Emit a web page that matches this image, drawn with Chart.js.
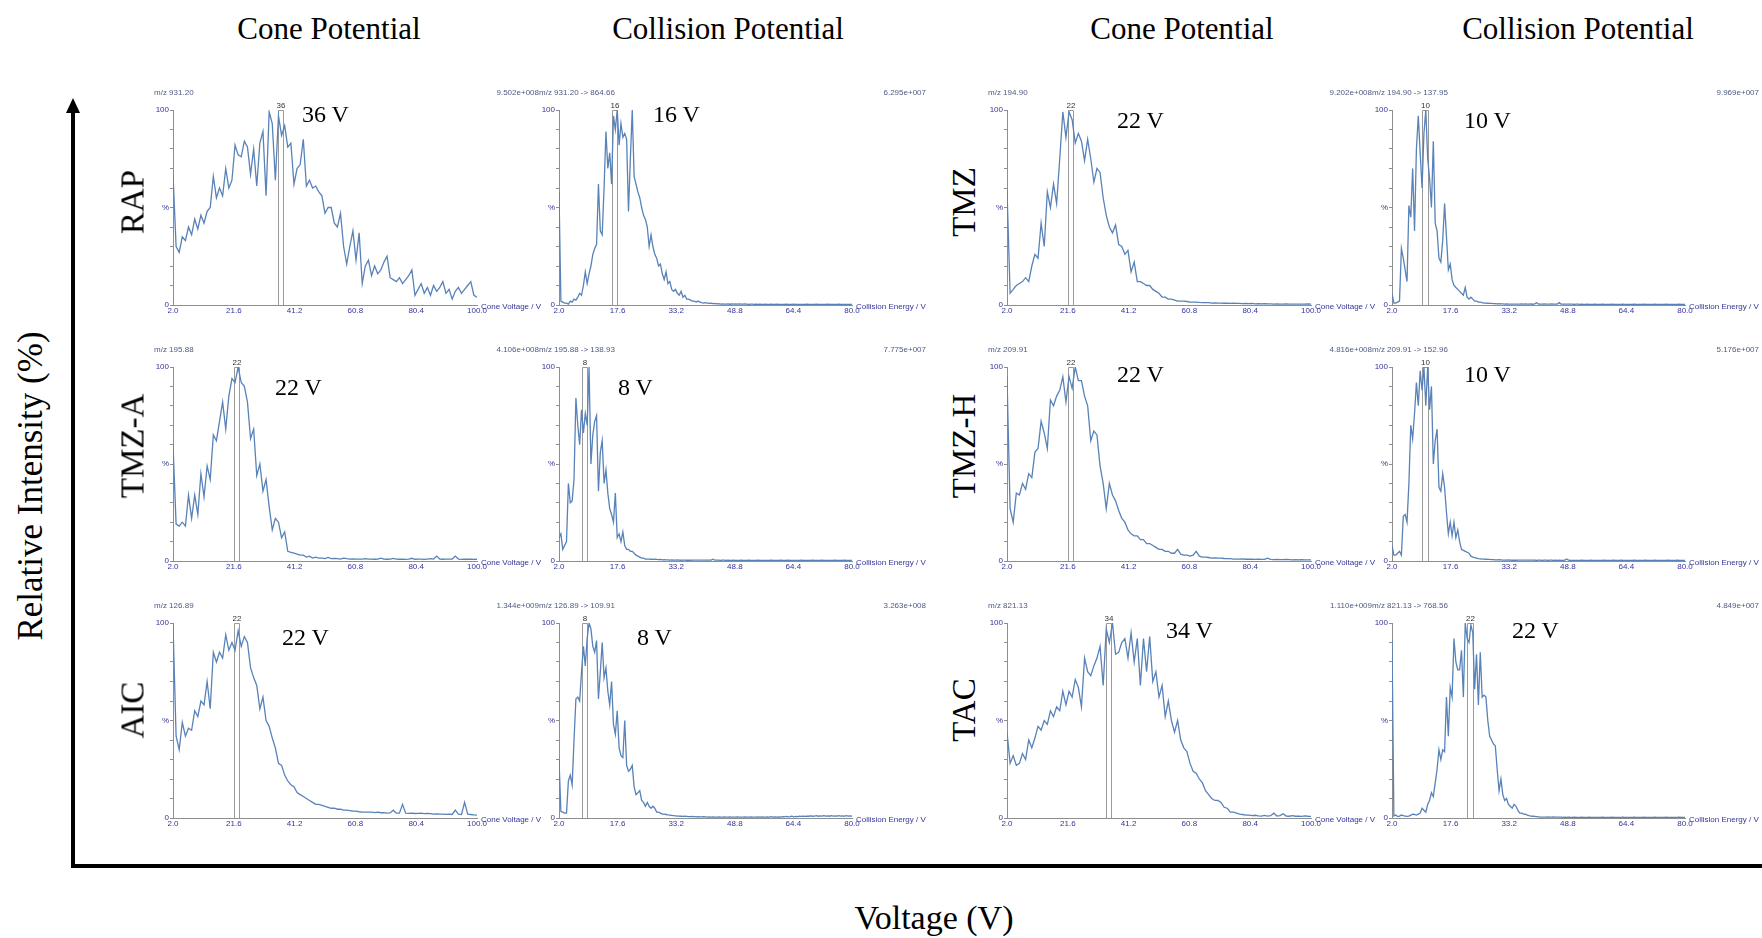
<!DOCTYPE html>
<html>
<head>
<meta charset="utf-8">
<script src="https://cdn.jsdelivr.net/npm/chart.js@4.4.1/dist/chart.umd.min.js"></script>
<style>
  body { margin: 0; width: 1762px; height: 938px; background: #fff; position: relative; overflow: hidden; }
  .panel { position: absolute; }
  .serif { position: absolute; font-family: "Liberation Serif", "Times New Roman", serif; color: #000; white-space: nowrap; line-height: 1; }
  .small { position: absolute; font-family: "Liberation Sans", Arial, sans-serif; font-size: 8px; white-space: nowrap; line-height: 1; }
</style>
</head>
<body>
<svg width="1762" height="938" style="position:absolute;left:0;top:0">
  <line x1="73" y1="110" x2="73" y2="868" stroke="#000" stroke-width="4"/>
  <line x1="71" y1="866" x2="1762" y2="866" stroke="#000" stroke-width="4"/>
  <polygon points="73,98 66,113 80,113" fill="#000"/>
</svg>
<script>
// ---------- data ----------
// x axis ticks of the two kinds of panel
const coneTicks = [2.0, 21.6, 41.2, 60.8, 80.4, 100.0];
const collisionTicks = [2.0, 17.6, 33.2, 48.8, 64.4, 80.0];
const intensityTicks = [0, 10, 20, 30, 40, 50, 60, 70, 80, 90, 100];

// scans: cone voltage from 2 V in 1 V steps, collision energy from 2 V in 0.5 V steps
const coneStart = 2, coneStep = 1;
const collisionStart = 2, collisionStep = 0.5;

const compounds = ['RAP', 'TMZ', 'TMZ-A', 'TMZ-H', 'AIC', 'TAC'];
const coneMz = ['m/z 931.20', 'm/z 194.90', 'm/z 195.88', 'm/z 209.91', 'm/z 126.89', 'm/z 821.13'];
const coneIntensity = ['9.502e+008', '9.202e+008', '4.106e+008', '4.816e+008', '1.344e+009', '1.110e+009'];
const collisionMz = ['m/z 931.20 -> 864.66', 'm/z 194.90 -> 137.95', 'm/z 195.88 -> 138.93',
                     'm/z 209.91 -> 152.96', 'm/z 126.89 -> 109.91', 'm/z 821.13 -> 768.56'];
const collisionIntensity = ['6.295e+007', '9.969e+007', '7.775e+007', '5.176e+007', '3.263e+008', '4.849e+007'];
const conePeak = [36, 22, 22, 22, 22, 34];
const collisionPeak = [16, 10, 8, 10, 8, 22];

// relative intensity (%), cone voltage 2..100 V
const rapCone = [
  67, 30, 27, 35, 33, 40, 36, 44, 39, 46,
  42, 48, 50, 66, 55, 60, 56, 70, 60, 64,
  82, 77, 76, 84, 81, 67, 80, 61, 83, 89,
  56, 99, 93, 64, 97, 87, 92, 81, 83, 62,
  70, 72, 85, 61, 64, 60, 61, 58, 56, 47,
  50, 50, 42, 40, 47, 30, 21, 30, 38, 23,
  37, 11, 20, 23, 15, 20, 16, 18, 22, 25,
  14, 13, 12, 14, 11, 13, 15, 18, 5, 8,
  11, 6, 9, 5, 10, 7, 9, 12, 6, 8,
  3, 7, 9, 6, 8, 10, 12, 5, 4];
const tmzCone = [
  59, 6, 8, 10, 11, 12, 14, 12, 20, 26,
  24, 42, 30, 58, 50, 62, 52, 75, 99, 86,
  99, 95, 83, 88, 84, 74, 85, 75, 63, 70,
  68, 55, 46, 40, 37, 41, 31, 30, 26, 28,
  17, 22, 12, 12, 11, 10, 10, 8, 7, 6,
  4, 4, 3, 3, 2.5, 2, 2, 2, 1.8, 1.5,
  1.5, 1.5, 1.3, 1.2, 1.2, 1.2, 1, 1.1, 1, 1,
  0.9, 1, 0.8, 0.9, 0.8, 0.8, 0.7, 0.8, 0.7, 0.8,
  0.6, 0.7, 0.6, 0.7, 0.6, 0.6, 0.5, 0.6, 0.5, 0.5,
  0.6, 0.5, 0.5, 0.4, 0.5, 0.5, 0.4, 0.5, 0.4];
const tmzACone = [
  60, 19, 18, 20, 18, 34, 22, 34, 24, 45,
  33, 49, 42, 65, 62, 72, 82, 68, 85, 94,
  92, 100, 92, 90, 82, 63, 68, 44, 50, 36,
  42, 28, 16, 22, 20, 12, 15, 5, 4.5, 4,
  3.5, 3, 3, 2, 2.5, 1.5, 2, 1.5, 1.5, 1.2,
  1.8, 1.2, 1.3, 1.2, 1, 1.5, 1.2, 1, 1.1, 1,
  1, 1, 1.2, 1, 1, 0.9, 1, 1.5, 1, 0.9,
  1, 1.3, 1, 0.9, 1, 0.8, 1, 1.4, 0.9, 1,
  1, 0.8, 1, 1.2, 1, 2.5, 1, 0.9, 1, 1,
  1, 2.5, 1, 0.8, 1, 0.9, 1, 0.8, 0.9];
const tmzHCone = [
  95, 27, 20, 35, 34, 40, 37, 45, 43, 56,
  58, 72, 66, 58, 83, 80, 85, 88, 95, 82,
  95, 89, 100, 93, 93, 85, 80, 62, 67, 65,
  49, 40, 27, 40, 34, 31, 26, 22, 20, 16,
  14, 13, 13, 11, 11, 9, 9, 8, 7, 6,
  6, 5, 5, 4, 4, 6, 3.5, 3, 3, 2.5,
  3, 5, 2.5, 2, 2, 1.8, 1.5, 1.6, 1.5, 1.5,
  1.3, 1.2, 1.2, 1, 1, 1, 1.1, 0.9, 1, 0.9,
  0.8, 0.9, 0.8, 0.8, 1.5, 0.8, 0.7, 0.8, 0.7, 0.7,
  0.8, 0.7, 0.6, 0.7, 0.6, 0.7, 0.6, 0.6, 0.6];
const aicCone = [
  99, 42, 35, 49, 42, 46, 45, 55, 52, 60,
  58, 70, 56, 85, 80, 85, 82, 94, 86, 90,
  86, 96, 88, 93, 90, 77, 72, 68, 56, 62,
  50, 47, 41, 36, 28, 27, 22, 19, 17, 16,
  13, 12, 11, 10, 9, 8, 7, 7, 6.5, 6,
  5.5, 5, 5, 4.5, 4.5, 4, 4, 3.8, 3.5, 3.5,
  3.2, 3, 3, 3, 3, 2.8, 3, 2.7, 2.8, 2.5,
  2.6, 4, 2.5, 2.5, 7, 2.5, 2.4, 2.5, 2.3, 2.4,
  2.5, 2.2, 2.3, 2.2, 2, 2.1, 2, 2, 1.9, 2,
  1.8, 4, 2, 1.8, 8, 2, 1.8, 1.6, 1.5];
const tacCone = [
  44, 28, 32, 27, 28, 33, 30, 40, 36, 41,
  47, 45, 50, 48, 55, 52, 57, 55, 65, 58,
  65, 62, 71, 67, 57, 82, 75, 73, 78, 82,
  88, 68, 97, 90, 100, 84, 85, 90, 92, 82,
  95, 80, 92, 68, 92, 75, 93, 70, 75, 62,
  68, 52, 60, 50, 44, 50, 40, 36, 34, 28,
  24, 23, 20, 18, 14, 12, 10, 9, 9, 8,
  5.5, 5, 3, 3, 2.5, 2, 1.8, 1.5, 1.5, 1.2,
  1.4, 1.1, 1, 1.3, 1, 1.2, 2.5, 1, 1.2, 2.2,
  1, 0.9, 1.2, 0.9, 1, 0.8, 1.1, 0.9, 0.8];

// relative intensity (%), collision energy 2..80 V
const rapCollision = [
  58, 2, 1.5, 1, 1, 0.5, 2, 1.5, 3, 2.5,
  4, 6, 5, 10, 17, 11, 16, 20, 26, 29,
  31, 62, 38, 36, 60, 89, 70, 78, 62, 97,
  90, 100, 82, 93, 86, 88, 85, 48, 75, 100,
  66, 62, 58, 55, 50, 46, 44, 40, 30, 36,
  30, 26, 24, 20, 21, 16, 13, 17, 11, 12,
  8, 7, 8, 6, 5, 7, 4, 5, 3, 3,
  2.5, 2, 2, 1.5, 2, 1.5, 1.2, 1, 1.2, 1,
  0.8, 1, 0.7, 0.8, 0.6, 0.7, 0.5, 0.6, 0.5, 0.5,
  0.6, 0.4, 0.5, 0.4, 0.5, 0.4, 0.5, 0.4, 0.4, 0.5,
  0.4, 0.3, 0.4, 0.4, 0.3, 0.4, 0.3, 0.4, 0.3, 0.3,
  0.4, 0.3, 0.3, 0.4, 0.3, 0.3, 0.4, 0.3, 0.3, 0.3,
  0.3, 0.4, 0.3, 0.3, 0.3, 0.4, 0.3, 0.3, 0.3, 0.3,
  0.3, 0.3, 0.4, 0.3, 0.3, 0.3, 0.3, 0.4, 0.3, 0.3,
  0.3, 0.3, 0.3, 0.4, 0.3, 0.3, 0.3, 0.3, 0.3, 0.4,
  0.3, 0.3, 0.3, 0.3, 0.3, 0.3, 0.3];
const tmzCollision = [
  6, 1, 1, 1.5, 2, 29, 24, 18, 12, 51,
  45, 70, 38, 80, 97, 78, 60, 88, 100, 75,
  65, 50, 84, 42, 38, 24, 22, 33, 52, 35,
  18, 21, 13, 10, 9, 8, 7, 6, 5, 9,
  4, 3, 4, 3, 2, 2, 1.5, 1.5, 1.2, 1,
  1, 0.9, 0.8, 0.8, 0.7, 0.7, 0.6, 0.7, 0.6, 0.6,
  0.5, 0.6, 0.5, 0.5, 0.5, 0.4, 0.5, 0.5, 0.4, 0.5,
  0.4, 0.5, 0.4, 0.4, 0.5, 0.4, 0.6, 1.2, 0.5, 0.4,
  0.4, 0.5, 0.4, 0.4, 0.4, 0.5, 0.4, 0.4, 0.5, 1.2,
  0.5, 0.4, 0.4, 0.4, 0.4, 0.4, 0.4, 0.3, 0.4, 0.4,
  0.3, 0.4, 0.3, 0.3, 0.4, 0.3, 0.3, 0.3, 0.4, 0.3,
  0.3, 0.3, 0.4, 0.3, 0.3, 0.3, 0.3, 0.4, 0.3, 0.3,
  0.3, 0.3, 0.3, 0.4, 0.3, 0.3, 0.3, 0.3, 0.3, 0.4,
  0.3, 0.3, 0.3, 0.3, 0.4, 0.3, 0.3, 0.3, 0.3, 0.3,
  0.4, 0.3, 0.3, 0.3, 0.3, 0.3, 0.4, 0.3, 0.3, 0.3,
  0.3, 0.3, 0.3, 0.4, 0.3, 0.3, 0.3];
const tmzACollision = [
  12, 14, 6, 8, 10, 40, 30, 31, 42, 84,
  70, 60, 78, 66, 76, 70, 100, 50, 65, 72,
  75, 36, 56, 62, 40, 47, 35, 27, 24, 20,
  35, 12, 14, 10, 15, 8, 6, 6, 5, 5,
  4, 3, 2.5, 2, 1.5, 1.5, 1, 1, 1, 0.9,
  0.8, 0.9, 0.8, 0.7, 0.8, 0.6, 0.7, 0.6, 0.6, 0.5,
  0.6, 0.5, 0.5, 0.6, 0.5, 0.4, 0.5, 0.5, 0.4, 0.5,
  0.4, 0.5, 0.4, 0.4, 0.5, 0.4, 0.4, 0.4, 0.5, 0.4,
  0.4, 0.5, 0.9, 0.4, 0.4, 0.4, 0.3, 0.4, 0.4, 0.3,
  0.4, 0.3, 0.3, 0.4, 0.3, 0.3, 0.3, 0.4, 0.3, 0.3,
  0.3, 0.4, 0.3, 0.3, 0.3, 0.3, 0.4, 0.3, 0.3, 0.3,
  0.3, 0.3, 0.3, 0.4, 0.3, 0.3, 0.3, 0.3, 0.4, 0.3,
  0.3, 0.3, 0.4, 0.3, 0.3, 0.3, 0.3, 0.3, 0.3, 0.4,
  0.3, 0.3, 0.3, 0.3, 0.3, 0.4, 0.3, 0.3, 0.3, 0.3,
  0.4, 0.3, 0.3, 0.3, 0.3, 0.3, 0.3, 0.4, 0.3, 0.3,
  0.3, 0.3, 0.4, 0.3, 0.3, 0.3, 0.3];
const tmzHCollision = [
  8, 3, 3, 4, 5, 3, 23, 24, 20, 40,
  70, 63, 76, 92, 80, 98, 88, 100, 80, 100,
  78, 90, 50, 62, 68, 38, 36, 45, 38, 25,
  14, 20, 13, 20, 12, 16, 10, 6, 5.5, 5,
  4.5, 4, 2.5, 2, 1.8, 1.5, 1.2, 1.1, 1, 1,
  0.9, 0.8, 0.8, 0.7, 0.7, 0.6, 0.6, 0.7, 0.6, 0.5,
  0.5, 0.5, 0.6, 0.5, 0.4, 0.5, 0.4, 0.5, 0.4, 0.4,
  0.4, 0.5, 0.4, 0.4, 0.4, 0.4, 0.4, 0.3, 0.4, 0.4,
  0.3, 0.4, 0.4, 0.3, 0.4, 0.4, 0.3, 0.4, 0.3, 0.4,
  0.3, 0.3, 0.4, 1.0, 0.4, 0.3, 0.3, 0.3, 0.3, 0.3,
  0.3, 0.4, 0.3, 0.3, 0.3, 0.3, 0.4, 0.3, 0.3, 0.3,
  0.3, 0.3, 0.3, 0.4, 0.3, 0.3, 0.3, 0.3, 0.4, 0.3,
  0.3, 0.3, 0.4, 0.3, 0.3, 0.3, 0.3, 0.3, 0.3, 0.4,
  0.3, 0.3, 0.3, 0.3, 0.3, 0.4, 0.3, 0.3, 0.3, 0.3,
  0.4, 0.3, 0.3, 0.3, 0.3, 0.3, 0.3, 0.4, 0.3, 0.3,
  0.3, 0.3, 0.4, 0.3, 0.3, 0.3, 0.3];
const aicCollision = [
  30, 3.4, 3, 2.5, 2.5, 19, 22, 17, 40, 61,
  62, 60, 75, 88, 78, 92, 100, 97, 88, 85,
  91, 61, 75, 90, 72, 77, 65, 58, 70, 48,
  43, 55, 36, 32, 31, 50, 27, 24, 25, 27,
  16, 12, 13, 14, 9, 8, 6, 8, 6, 5,
  6, 5, 3, 3, 2.5, 2, 2, 1.8, 1.6, 1.5,
  1.3, 1.2, 1.1, 1, 1, 0.9, 0.8, 0.9, 0.8, 0.7,
  0.7, 0.8, 0.7, 0.6, 0.7, 0.6, 0.6, 0.7, 0.6, 0.5,
  0.6, 0.5, 0.6, 0.5, 0.5, 0.6, 0.5, 0.5, 0.6, 0.5,
  0.5, 0.6, 0.5, 0.5, 0.5, 0.6, 0.5, 0.5, 0.5, 0.6,
  0.5, 0.5, 0.6, 0.5, 0.5, 0.5, 0.6, 0.5, 0.6, 0.5,
  0.5, 0.6, 0.5, 0.7, 0.5, 0.6, 0.5, 0.6, 0.5, 0.7,
  0.6, 0.8, 0.6, 0.7, 0.9, 0.6, 0.8, 0.7, 0.9, 0.8,
  1, 0.8, 1, 0.9, 1.1, 0.9, 1, 1.2, 0.9, 1.1,
  1, 1.2, 1, 1.1, 0.9, 1.2, 1, 1.1, 1, 1.2,
  1, 1.1, 1, 1.2, 1, 1.1, 1];
const tacCollision = [
  91, 1, 1.5, 0.8, 1, 1.5, 1.2, 1, 0.8, 1,
  1.5, 2, 1.8, 1.5, 2, 2.5, 5, 4, 3, 7,
  9, 13, 11, 18, 25, 35, 30, 35, 34, 62,
  42, 67, 62, 92, 80, 76, 76, 86, 62, 100,
  92, 90, 99, 95, 66, 84, 58, 85, 62, 63,
  62, 50, 42, 40, 38, 37, 25, 14, 20, 12,
  9, 10, 7, 6, 5, 7, 6, 4, 2.5, 2.5,
  2, 2, 1.5, 1.2, 1, 0.9, 0.8, 0.7, 0.6, 0.5,
  0.5, 0.5, 0.4, 0.5, 0.4, 0.4, 0.5, 0.4, 0.4, 0.4,
  0.4, 0.3, 0.4, 0.3, 0.4, 0.3, 0.3, 0.4, 0.3, 0.3,
  0.3, 0.4, 0.3, 0.3, 0.3, 0.4, 0.3, 0.3, 0.3, 0.3,
  0.3, 0.3, 0.4, 0.3, 0.3, 0.3, 0.3, 0.4, 0.3, 0.3,
  0.3, 0.3, 0.3, 0.4, 0.3, 0.3, 0.3, 0.3, 0.3, 0.4,
  0.3, 0.3, 0.3, 0.3, 0.4, 0.3, 0.3, 0.3, 0.3, 0.3,
  0.4, 0.3, 0.3, 0.3, 0.3, 0.3, 0.4, 0.3, 0.3, 0.3,
  0.3, 0.3, 0.3, 0.4, 0.3, 0.3, 0.3];

const coneSeries = [rapCone, tmzCone, tmzACone, tmzHCone, aicCone, tacCone];
const collisionSeries = [rapCollision, tmzCollision, tmzACollision, tmzHCollision, aicCollision, tacCollision];

// big "optimum" labels written next to each peak
const coneOptimumText = ['36 V', '22 V', '22 V', '22 V', '22 V', '34 V'];
const collisionOptimumText = ['16 V', '10 V', '8 V', '10 V', '8 V', '22 V'];

// ---------- layout (pixels) ----------
const rowTop = [110, 367, 623];
const rowHeight = [195, 194, 195];
const pairConeLeft = [173, 1007];
const pairCollisionLeft = [559, 1392];
const coneWidth = 304, collisionWidth = 293;
const rowLabelX = [133, 964];
const rowLabelY = [202, 446, 710];
// left edge and baseline of the big "xx V" labels, per compound: [cone, collision]
const optimumPos = [
  [[302, 122], [653, 122]], [[1117, 128], [1464, 128]],
  [[275, 395], [618, 395]], [[1117, 382], [1464, 382]],
  [[282, 645], [637, 645]], [[1166, 638], [1512, 638]]];

const Y_AXIS_W = 24, X_AXIS_H = 12, PAD_TOP = 14, PAD_RIGHT = 16;
const LINE_COLOR = '#5882b8';
const AXIS_COLOR = '#8e8e8e';
const TICK_COLOR = '#34349a';
const HEAD_COLOR = '#4f5a82';
const SANS = '"Liberation Sans", Arial, sans-serif';

Chart.defaults.font.family = SANS;

function addText(cls, text, x, y, opts) {
  const el = document.createElement('div');
  el.className = cls;
  el.textContent = text;
  el.style.left = x + 'px';
  el.style.top = y + 'px';
  if (opts.size) el.style.fontSize = opts.size + 'px';
  if (opts.color) el.style.color = opts.color;
  if (opts.transform) el.style.transform = opts.transform;
  document.body.appendChild(el);
}

// peak box + its label, placed through the chart's own scales
const peakBoxPlugin = {
  id: 'peakBox',
  beforeDatasetsDraw(chart, args, opts) {
    const { ctx, scales: { x, y } } = chart;
    const l = Math.round(x.getPixelForValue(opts.peak + opts.from)) + 0.5;
    const r = Math.round(x.getPixelForValue(opts.peak + opts.to)) + 0.5;
    const t = Math.round(y.getPixelForValue(100)) + 0.5;
    const b = Math.round(y.getPixelForValue(0));
    ctx.save();
    ctx.strokeStyle = '#9a9a9a';
    ctx.lineWidth = 1;
    ctx.beginPath();
    ctx.moveTo(l, b); ctx.lineTo(l, t); ctx.lineTo(r, t); ctx.lineTo(r, b);
    ctx.stroke();
    ctx.fillStyle = '#333';
    ctx.font = '8px ' + SANS;
    ctx.textAlign = 'center';
    ctx.textBaseline = 'bottom';
    ctx.fillText(String(opts.peak), (l + r) / 2, t - 1);
    ctx.restore();
  }
};

function makePanel(values, start, step, ticks, peak, box, left, top, w, h) {
  const wrap = document.createElement('div');
  wrap.className = 'panel';
  wrap.style.left = (left - Y_AXIS_W) + 'px';
  wrap.style.top = (top - PAD_TOP) + 'px';
  const canvas = document.createElement('canvas');
  canvas.width = Y_AXIS_W + w + PAD_RIGHT;
  canvas.height = PAD_TOP + h + X_AXIS_H;
  wrap.appendChild(canvas);
  document.body.appendChild(wrap);

  const points = values.map((v, i) => ({ x: start + i * step, y: v }));

  new Chart(canvas, {
    type: 'line',
    data: { datasets: [{ data: points, borderColor: LINE_COLOR, borderWidth: 1.3,
                         pointRadius: 0, tension: 0, fill: false }] },
    options: {
      responsive: false, animation: false, devicePixelRatio: 1,
      layout: { padding: { top: PAD_TOP, right: PAD_RIGHT, left: 0, bottom: 0 } },
      plugins: { legend: { display: false }, tooltip: { enabled: false },
                 peakBox: { peak: peak, from: box[0], to: box[1] } },
      scales: {
        x: {
          type: 'linear', min: ticks[0], max: ticks[ticks.length - 1],
          afterBuildTicks: s => { s.ticks = ticks.map(v => ({ value: v })); },
          afterFit: s => { s.height = X_AXIS_H; },
          grid: { display: false, drawTicks: false },
          border: { color: AXIS_COLOR, width: 1 },
          ticks: { color: TICK_COLOR, font: { size: 8 }, padding: 1, maxRotation: 0, autoSkip: false,
                   callback: v => v.toFixed(1) }
        },
        y: {
          min: 0, max: 100,
          afterBuildTicks: s => { s.ticks = intensityTicks.map(v => ({ value: v })); },
          afterFit: s => { s.width = Y_AXIS_W; },
          grid: { drawOnChartArea: false, drawTicks: true, tickLength: 3, color: AXIS_COLOR },
          border: { color: AXIS_COLOR, width: 1 },
          ticks: { color: TICK_COLOR, font: { size: 8 }, padding: 1, autoSkip: false,
                   callback: v => v === 0 ? '0' : v === 50 ? '%' : v === 100 ? '100' : '' }
        }
      }
    },
    plugins: [peakBoxPlugin]
  });
}

// ---------- build the 12 panels ----------
compounds.forEach((name, i) => {
  const row = Math.floor(i / 2), pair = i % 2;
  const top = rowTop[row], h = rowHeight[row];
  const coneLeft = pairConeLeft[pair], collLeft = pairCollisionLeft[pair];
  const coneRight = coneLeft + coneWidth, collRight = collLeft + collisionWidth;

  makePanel(coneSeries[i], coneStart, coneStep, coneTicks, conePeak[i], [-0.2, 1.4],
            coneLeft, top, coneWidth, h);
  makePanel(collisionSeries[i], collisionStart, collisionStep, collisionTicks, collisionPeak[i], [0, 1.5],
            collLeft, top, collisionWidth, h);

  // small header texts
  const hy = top - 17;
  addText('small', coneMz[i], coneLeft - 19, hy, { color: HEAD_COLOR, transform: 'translateY(-50%)' });
  addText('small', coneIntensity[i], collLeft - 20, hy, { color: HEAD_COLOR, transform: 'translate(-100%,-50%)' });
  addText('small', collisionMz[i], collLeft - 20, hy, { color: HEAD_COLOR, transform: 'translateY(-50%)' });
  addText('small', collisionIntensity[i], collRight + 74, hy, { color: HEAD_COLOR, transform: 'translate(-100%,-50%)' });

  // axis names to the right of each x axis
  addText('small', 'Cone Voltage / V', coneRight + 4, top + h + 2, { color: TICK_COLOR, transform: 'translateY(-50%)' });
  addText('small', 'Collision Energy / V', collRight + 4, top + h + 2, { color: TICK_COLOR, transform: 'translateY(-50%)' });

  // big optimum labels
  const [cp, kp] = optimumPos[i];
  addText('serif', coneOptimumText[i], cp[0], cp[1] - 20, { size: 24 });
  addText('serif', collisionOptimumText[i], kp[0], kp[1] - 20, { size: 24 });

  // compound name, rotated
  addText('serif', name, rowLabelX[pair], rowLabelY[row], { size: 33, transform: 'translate(-50%,-50%) rotate(-90deg)' });
});

// column headers and overall axis titles
addText('serif', 'Cone Potential', 329, 28, { size: 31, transform: 'translate(-50%,-50%)' });
addText('serif', 'Collision Potential', 728, 28, { size: 31, transform: 'translate(-50%,-50%)' });
addText('serif', 'Cone Potential', 1182, 28, { size: 31, transform: 'translate(-50%,-50%)' });
addText('serif', 'Collision Potential', 1578, 28, { size: 31, transform: 'translate(-50%,-50%)' });
addText('serif', 'Relative Intensity (%)', 30, 486, { size: 35, transform: 'translate(-50%,-50%) rotate(-90deg)' });
addText('serif', 'Voltage (V)', 934, 918, { size: 34, transform: 'translate(-50%,-50%)' });
</script>
</body>
</html>
